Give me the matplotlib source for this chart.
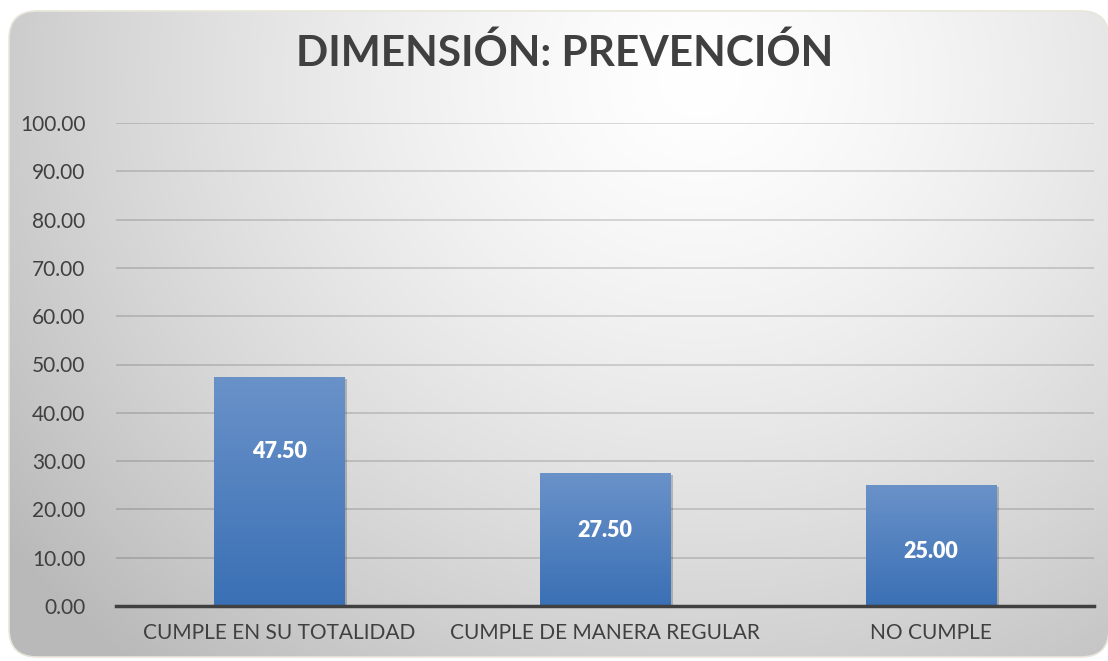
import numpy as np
import matplotlib
matplotlib.use("Agg")
import matplotlib.pyplot as plt
from matplotlib.patches import FancyBboxPatch
import matplotlib.patheffects as pe

categories = ["CUMPLE EN SU TOTALIDAD", "CUMPLE DE MANERA REGULAR", "NO CUMPLE"]
values = [47.50, 27.50, 25.00]
# where the data labels sit, in data units
label_y = [31.9, 15.7, 11.2]
title = "DIMENSIÓN: PREVENCIÓN"

plt.rcParams['font.family'] = ['Lato', 'DejaVu Sans']
text_col = "#404040"

fig = plt.figure(figsize=(11.08, 6.61), dpi=100)
fig.patch.set_facecolor("white")

# background panel with radial gradient
bg = fig.add_axes([0, 0, 1, 1])
bg.set_xlim(0, 1108)
bg.set_ylim(661, 0)
bg.axis("off")
yy, xx = np.mgrid[0:661, 0:1108]
d = np.sqrt(((xx - 700) / 720.0) ** 2 + ((yy - 80) / 640.0) ** 2)
shade = 1.0 - 0.21 * np.clip(d, 0, 1.2) ** 1.4
img = np.dstack([shade, shade, shade])
im = bg.imshow(img, extent=(0, 1108, 661, 0), zorder=0)
panel = FancyBboxPatch((9, 11), 1100, 646, boxstyle="round,pad=0,rounding_size=28",
                       facecolor="none", edgecolor="#e8e6dc", lw=1.2, zorder=2)
bg.add_patch(panel)
im.set_clip_path(panel)

ax = fig.add_axes([116 / 1108, 1 - 606 / 661, (1094 - 116) / 1108, (606 - 123) / 661])
ax.patch.set_alpha(0)
x = np.arange(len(categories))
bars = ax.bar(x, values, width=0.40, color="#4a7fc1", zorder=3,
              path_effects=[pe.SimplePatchShadow(offset=(2, -1.5), alpha=0.2, shadow_rgbFace="#000000"), pe.Normal()])

# vertical gradient inside each bar
top_c = np.array([0x6a, 0x92, 0xc9]) / 255
bot_c = np.array([0x3a, 0x70, 0xb5]) / 255
grad = np.linspace(0, 1, 256)[:, None]
gimg = top_c[None, None, :] * (1 - grad[..., None]) + bot_c[None, None, :] * grad[..., None]
for b in bars:
    bx, bw, bh = b.get_x(), b.get_width(), b.get_height()
    gi = ax.imshow(gimg, extent=(bx, bx + bw, 0, bh), aspect="auto", zorder=4, origin="upper")
    gi.set_clip_path(b)

for xi, v, ly in zip(x, values, label_y):
    ax.text(xi, ly, f"{v:.2f}", ha="center", va="center", color="white",
            fontsize=15.5, fontweight="heavy", zorder=5)

ax.set_xlim(-0.5, len(categories) - 0.5)
ax.set_ylim(0, 100)
ax.set_yticks(np.arange(0, 101, 10))
ax.set_yticklabels([f"{t:.2f}" for t in np.arange(0, 101, 10)])
ax.set_xticks(x)
ax.set_xticklabels(categories)
ax.tick_params(axis="both", length=0, labelsize=15, colors=text_col)
ax.tick_params(axis="y", pad=22)
ax.tick_params(axis="x", pad=12)
ax.grid(axis="y", color="black", alpha=0.14, lw=1.4, zorder=1)
for s in ["top", "right", "left"]:
    ax.spines[s].set_visible(False)
ax.spines["bottom"].set_color(text_col)
ax.spines["bottom"].set_linewidth(2.5)
ax.spines["bottom"].set_zorder(6)

fig.text(565 / 1108, 1 - 53 / 661, title, ha="center", va="center",
         fontsize=30.5, fontweight="bold", color=text_col)

fig.savefig("out.png", dpi=100)
